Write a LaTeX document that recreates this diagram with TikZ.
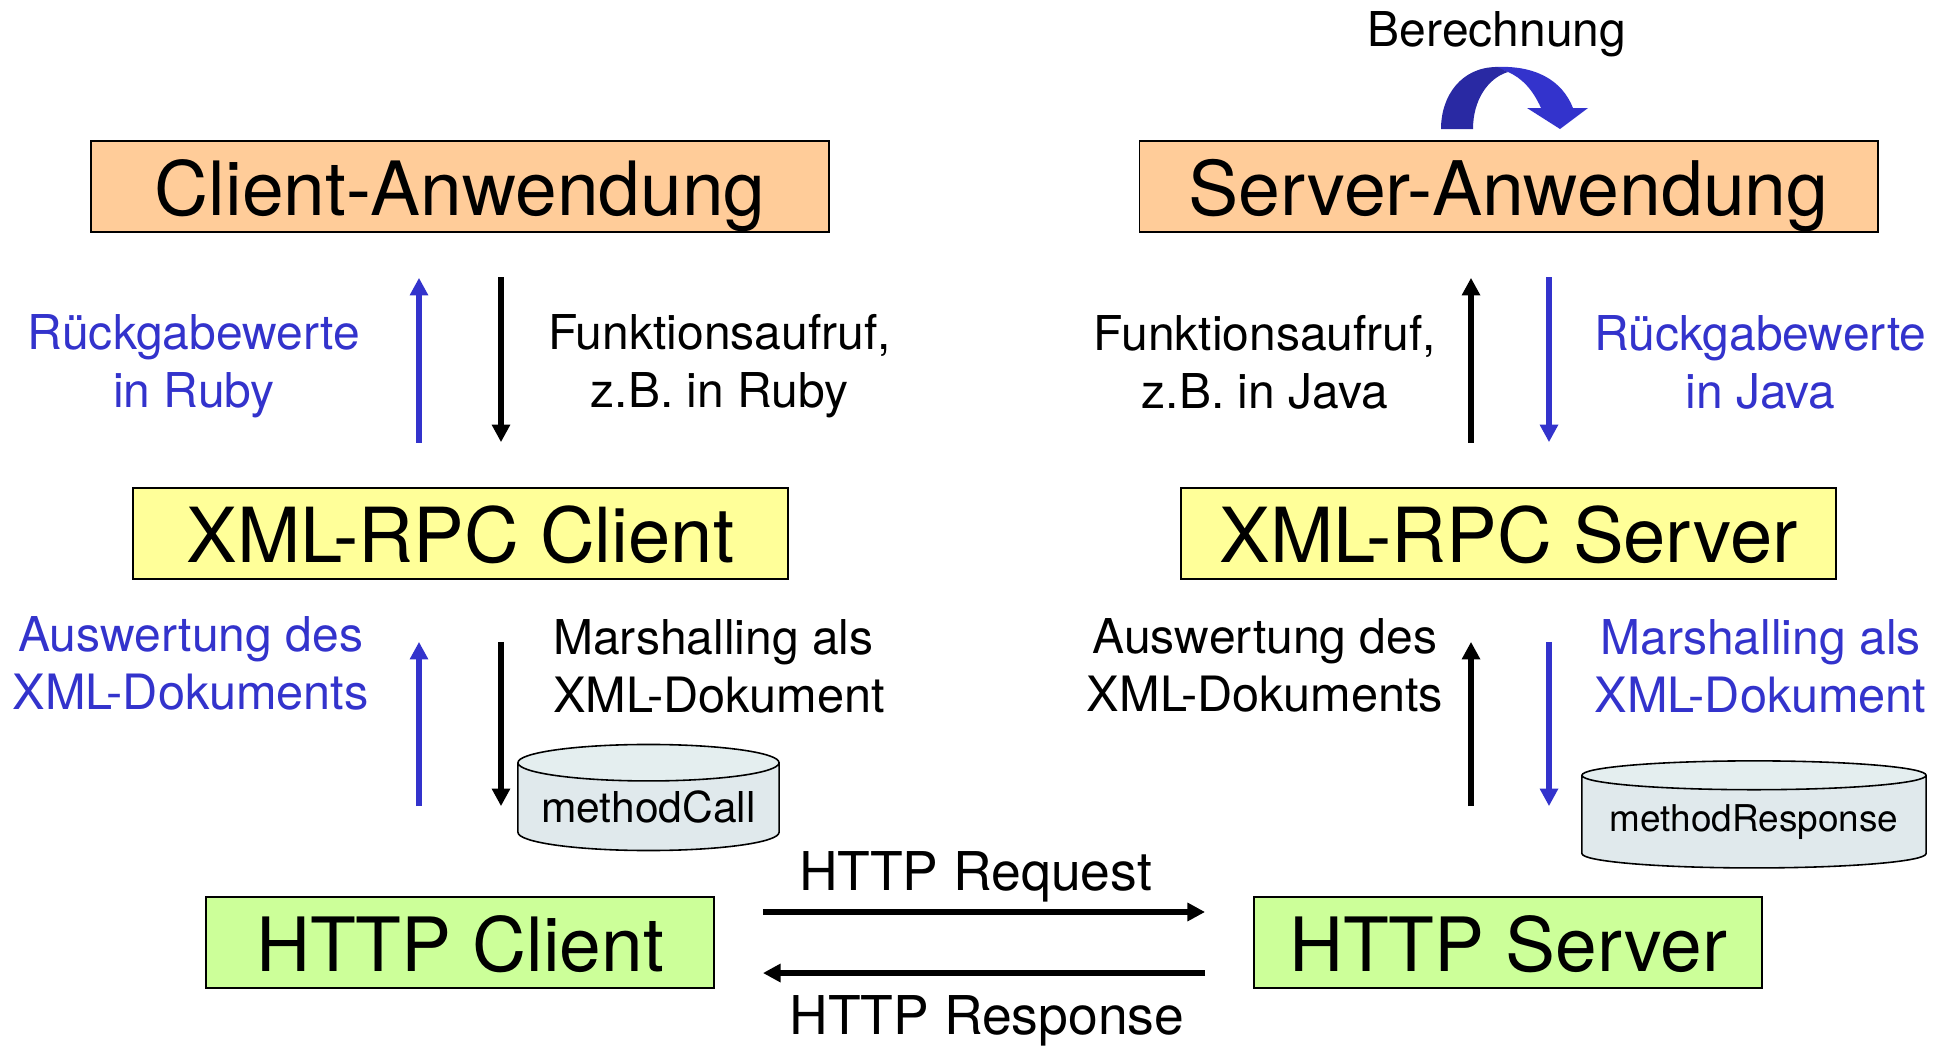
\documentclass[tikz,border=0pt]{standalone}
\usepackage{fontspec}
\setmainfont{TeX Gyre Heros}
\usetikzlibrary{arrows.meta,shapes.geometric}
\definecolor{appcolor}{HTML}{FFCC99}
\definecolor{xmlcolor}{HTML}{FFFF99}
\definecolor{httpcolor}{HTML}{CCFF99}
\definecolor{retblue}{HTML}{3333CC}
\definecolor{darkblue}{HTML}{2929A3}
\definecolor{doccolor}{HTML}{E0E9EC}
\definecolor{docend}{HTML}{E4EEEF}
\newcommand{\xmlline}[1]{{\fontsize{13.85}{16.5}\selectfont #1}}
\tikzset{
	box/.style={draw, line width=0.45pt, inner sep=0pt, text height=0.745cm, text depth=0.165cm, font=\fontsize{21.3}{25}\selectfont},
	xmlbox/.style={box, fill=xmlcolor, minimum width=6.55cm, font=\fontsize{21.6}{25}\selectfont},
	label/.style={align=center, font=\fontsize{13.65}{16.5}\selectfont},
	httplabel/.style={font=\fontsize{15.2}{18}\selectfont},
	doc/.style={cylinder, shape border rotate=90, draw, line width=0.45pt, cylinder uses custom fill, cylinder body fill=doccolor, cylinder end fill=docend, inner sep=0pt, outer sep=0pt},
	flow/.style={line width=1.7pt, -{Triangle[length=5pt,width=5pt]}},
	gapa/.style={shorten <=0.445cm, shorten >=0.45cm},
	gapb/.style={shorten <=0.9cm, shorten >=0.62cm},
}
\begin{document}
\begin{tikzpicture}[x=0.01cm, y=-0.01cm]
		\useasboundingbox (0,0) rectangle (1948,1045);
		% Boxes
		\node[box, fill=appcolor, minimum width=7.38cm] (clientapp) at (460,186.5) {Client-Anwendung};
		\node[box, fill=appcolor, minimum width=7.38cm, font=\fontsize{21.4}{25}\selectfont] (serverapp) at (1508.5,186.5) {Server-Anwendung};
		\node[xmlbox] (xmlclient) at (460.5,533.5) {XML-RPC Client};
		\node[xmlbox] (xmlserver) at (1508.5,533.5) {XML-RPC Server};
		\node[box, fill=httpcolor, minimum width=5.08cm] (httpclient) at (460,942.5) {HTTP Client};
		\node[box, fill=httpcolor, minimum width=5.08cm] (httpserver) at (1508,942.5) {HTTP Server};
		% Columns of the arrows
		\coordinate (colA) at (419,0);
		\coordinate (colB) at (501,0);
		\coordinate (colC) at (1471,0);
		\coordinate (colD) at (1549,0);
		% Upper arrows
		\draw[flow, gapa, retblue] (xmlclient.north -| colA) -- (clientapp.south -| colA);
		\draw[flow, gapa] (clientapp.south -| colB) -- (xmlclient.north -| colB);
		\draw[flow, gapa] (xmlserver.north -| colC) -- (serverapp.south -| colC);
		\draw[flow, gapa, retblue] (serverapp.south -| colD) -- (xmlserver.north -| colD);
		% Lower arrows
		\draw[flow, gapb, retblue] (httpclient.north -| colA) -- (xmlclient.south -| colA);
		\draw[flow, shorten <=0.62cm, shorten >=0.9cm] (xmlclient.south -| colB) -- (httpclient.north -| colB);
		\draw[flow, gapb] (httpserver.north -| colC) -- (xmlserver.south -| colC);
		\draw[flow, shorten <=0.62cm, shorten >=0.9cm, retblue] (xmlserver.south -| colD) -- (httpserver.north -| colD);
		% HTTP arrows
		\draw[flow, shorten <=0.48cm, shorten >=0.48cm] ([yshift=0.305cm]httpclient.east) -- ([yshift=0.305cm]httpserver.west);
		\draw[flow, shorten <=0.48cm, shorten >=0.48cm] ([yshift=-0.305cm]httpserver.west) -- ([yshift=-0.305cm]httpclient.east);
		% Documents
		\node[doc, aspect=0.17, minimum width=2.61cm, minimum height=1.06cm, font=\fontsize{12.1}{14}\selectfont] (methodcall) at (648.5,807) {methodCall};
		\node[doc, aspect=0.1, minimum width=3.44cm, minimum height=1.07cm, font=\fontsize{10.5}{12}\selectfont] (methodresponse) at (1754,822) {methodResponse};
		% Labels
		\node[label, text=retblue] (retruby) at (194,366) {Rückgabewerte\\in Ruby};
		\node[label] (callruby) at (719.5,366) {Funktionsaufruf,\\z.B. in Ruby};
		\node[label] (calljava) at (1265,362) {Funktionsaufruf,\\z.B. in Java};
		\node[label, text=retblue] (retjava) at (1760.5,362) {Rückgabewerte\\in Java};
		\node[label, text=retblue] (evalclient) at (190.7,663) {Auswertung des\\\xmlline{XML-Dokuments}};
		\node[label, align=left] (marshclient) at (719,666) {Marshalling als\\\xmlline{XML-Dokument}};
		\node[label] (evalserver) at (1265,665) {Auswertung des\\\xmlline{XML-Dokuments}};
		\node[label, text=retblue] (marshserver) at (1760.5,666) {Marshalling als\\\xmlline{XML-Dokument}};
		\node[httplabel] (request) at (975.5,877) {HTTP Request};
		\node[httplabel] (response) at (987,1021) {HTTP Response};
		\node[label] (compute) at (1497,34) {Berechnung};
		% Curved arrow
		\fill[retblue] (1495,67) .. controls (1535,65) and (1562,80) .. (1573,108) -- (1588,108) -- (1560,129) -- (1527,108) -- (1541,108) .. controls (1533,90) and (1522,78) .. (1508,72) -- cycle;
		\fill[darkblue] (1441,129) .. controls (1441,95) and (1462,67) .. (1497,67) -- (1508,72) .. controls (1488,78) and (1473,100) .. (1473,129) -- cycle;
	\end{tikzpicture}
\end{document}
